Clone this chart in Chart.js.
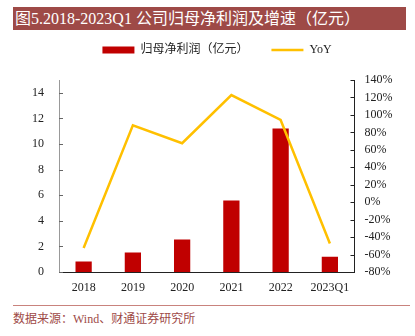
<!DOCTYPE html>
<html>
<head>
<meta charset="utf-8">
<script src="https://cdn.jsdelivr.net/npm/chart.js@4/dist/chart.umd.min.js"></script>
<style>
  html, body { margin: 0; padding: 0; background: #fff; }
  body { width: 415px; height: 336px; position: relative; overflow: hidden; }
  #title { position: absolute; left: 13px; top: 7px; width: 393px; height: 23px; background: #9E4A47; color: #fff;
    font: 16px 'Liberation Serif', 'Noto Sans CJK SC', serif; line-height: 23px; padding-left: 2px; box-sizing: border-box; white-space: nowrap; }
  #wrap { position: absolute; left: 0; top: 0; width: 415px; height: 296px; }
  #rule { position: absolute; left: 13px; top: 305px; width: 397px; height: 1px; background: #C9837D; }
  #src { position: absolute; left: 13px; top: 311px; color: #9E4A47; font: 12px 'Liberation Serif', 'Noto Sans CJK SC', serif; line-height: 16px; white-space: nowrap; }
</style>
</head>
<body>
<div id="title">图5.2018-2023Q1 公司归母净利润及增速（亿元）</div>
<div id="wrap"><canvas id="c"></canvas></div>
<div id="rule"></div>
<div id="src">数据来源：Wind、财通证券研究所</div>
<script>
const categories = ['2018', '2019', '2020', '2021', '2022', '2023Q1'];
const profit = [0.83, 1.53, 2.54, 5.58, 11.22, 1.19];
const yoy = [-52.4, 88.1, 67.6, 122.7, 94.2, -47.3];
const leftTicks = [0, 2, 4, 6, 8, 10, 12, 14];
const rightTicks = [-80, -60, -40, -20, 0, 20, 40, 60, 80, 100, 120, 140];
const seriesNames = ['归母净利润（亿元）', 'YoY'];

const FONT = "'Liberation Serif', 'Noto Sans CJK SC', serif";

const legendFitPatch = {
  id: 'legendFitPatch',
  beforeInit(chart) {
    const orig = chart.legend.fit;
    chart.legend.fit = function () { orig.call(this); this.height += 14; };
  }
};

const innerTicks = {
  id: 'innerTicks',
  afterDraw(chart) {
    const ctx = chart.ctx, a = chart.chartArea;
    ctx.save();
    ctx.lineWidth = 1;
    const yl = chart.scales.y;
    ctx.strokeStyle = '#666';
    yl.ticks.forEach(t => {
      const py = Math.round(yl.getPixelForValue(t.value)) + 0.5;
      ctx.beginPath(); ctx.moveTo(a.left, py); ctx.lineTo(a.left + 4, py); ctx.stroke();
    });
    const yr = chart.scales.y1;
    ctx.strokeStyle = '#222';
    yr.ticks.forEach(t => {
      const py = Math.round(yr.getPixelForValue(t.value)) + 0.5;
      ctx.beginPath(); ctx.moveTo(a.right - 4, py); ctx.lineTo(a.right, py); ctx.stroke();
    });
    ctx.restore();
  }
};

new Chart(document.getElementById('c'), {
  data: {
    labels: categories,
    datasets: [
      {
        type: 'bar', label: seriesNames[0], data: profit, yAxisID: 'y', order: 1,
        backgroundColor: '#C00000', borderWidth: 0,
        barPercentage: 0.33, categoryPercentage: 1, pointStyle: 'rect'
      },
      {
        type: 'line', label: seriesNames[1], data: yoy, yAxisID: 'y1', order: 0,
        borderColor: '#FFC000', backgroundColor: '#FFC000', borderWidth: 2.5,
        pointRadius: 0, pointStyle: 'line', tension: 0
      }
    ]
  },
  options: {
    responsive: true, maintainAspectRatio: false, animation: false,
    layout: { padding: { left: 19, right: 0, top: 21, bottom: 0 } },
    plugins: {
      tooltip: { enabled: false },
      legend: {
        position: 'top',
        labels: {
          usePointStyle: true, pointStyleWidth: 32, boxHeight: 7, padding: 23,
          color: '#222', font: { family: FONT, size: 12 },
          sort: (a, b) => a.datasetIndex - b.datasetIndex,
          generateLabels(chart) {
            const items = Chart.defaults.plugins.legend.labels.generateLabels(chart);
            items.forEach(it => {
              if (it.datasetIndex === 0) { it.pointStyle = 'rect'; it.fillStyle = '#C00000'; it.strokeStyle = '#C00000'; it.lineWidth = 0; }
              else { it.pointStyle = 'line'; it.strokeStyle = '#FFC000'; it.lineWidth = 2.5; }
            });
            return items;
          }
        }
      }
    },
    scales: {
      x: {
        offset: true,
        grid: { display: false, drawTicks: false },
        border: { display: true, color: '#222', width: 1 },
        ticks: { padding: 9, color: '#222', font: { family: FONT, size: 12 }, maxRotation: 0, autoSkip: false },
        afterFit(s) { s.height = 24; }
      },
      y: {
        position: 'left', min: 0, max: 15,
        grid: { display: false, drawTicks: false },
        border: { display: true, color: '#999', width: 1 },
        afterBuildTicks(s) { s.ticks = leftTicks.map(v => ({ value: v })); },
        ticks: { padding: 15, color: '#222', font: { family: FONT, size: 12 } },
        afterFit(s) { s.width = 40; }
      },
      y1: {
        position: 'right', min: -80, max: 140,
        grid: { display: false, drawTicks: false },
        border: { display: true, color: '#222', width: 1 },
        afterBuildTicks(s) { s.ticks = rightTicks.map(v => ({ value: v })); },
        ticks: { padding: 10, color: '#222', font: { family: FONT, size: 12 }, callback: v => v + '%' },
        afterFit(s) { s.width = 60.5; }
      }
    }
  },
  plugins: [legendFitPatch, innerTicks]
});
</script>
</body>
</html>
